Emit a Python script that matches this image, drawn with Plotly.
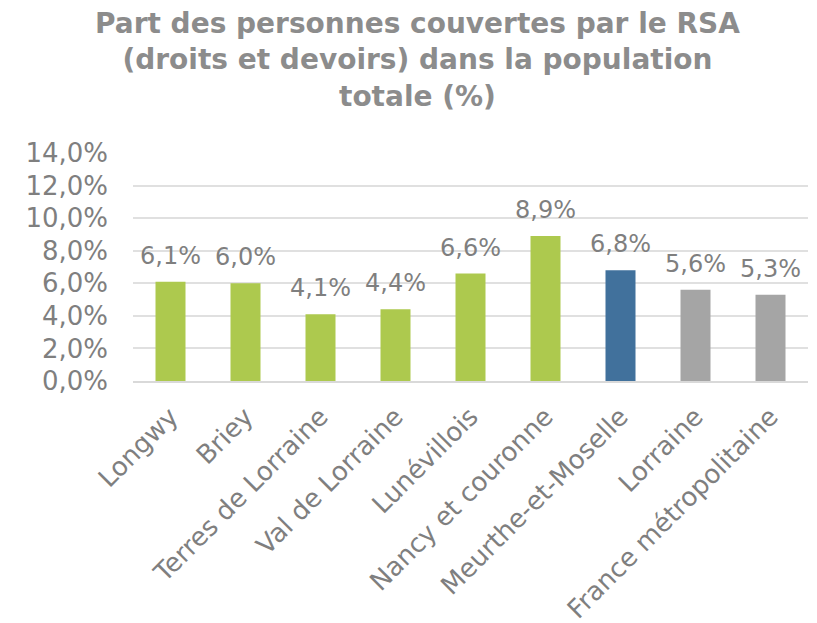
import plotly.graph_objects as go

categories = ["Longwy", "Briey", "Terres de Lorraine", "Val de Lorraine", "Lunévillois",
              "Nancy et couronne", "Meurthe-et-Moselle", "Lorraine", "France métropolitaine"]
values = [6.1, 6.0, 4.1, 4.4, 6.6, 8.9, 6.8, 5.6, 5.3]
value_labels = ["6,1%", "6,0%", "4,1%", "4,4%", "6,6%", "8,9%", "6,8%", "5,6%", "5,3%"]
colors = ["#ADC94E"] * 6 + ["#41719C"] + ["#A5A5A5"] * 2
tick_vals = [0, 2, 4, 6, 8, 10, 12, 14]
tick_text = ["0,0%", "2,0%", "4,0%", "6,0%", "8,0%", "10,0%", "12,0%", "14,0%"]

font_name = "DejaVu Sans"
grey_text = "#7F7F7F"

fig = go.Figure()
fig.add_trace(go.Bar(x=categories,
                     y=values,
                     marker={"color": colors, "line": {"width": 0}}))

# data labels, placed a little above each bar
for cat, val, lab in zip(categories, values, value_labels):
    fig.add_annotation(x=cat, y=val, text=lab, showarrow=False,
                       yanchor="bottom", yshift=10,
                       font={"family": font_name, "size": 24, "color": grey_text})

fig.add_annotation(text="<b>Part des personnes couvertes par le RSA<br>(droits et devoirs) dans la population<br>totale (%)</b>",
                   xref="paper", yref="paper", x=0.422, y=1.65,
                   xanchor="center", yanchor="top", showarrow=False,
                   font={"family": font_name, "size": 28, "color": "#8C8C8C"})

# page body has an 8px margin, so the margins are shifted by that amount
fig.update_layout(width=817, height=623,
                  paper_bgcolor="white",
                  plot_bgcolor="white",
                  showlegend=False,
                  bargap=0.6,
                  margin={"l": 125, "r": 17, "t": 145, "b": 250},
                  xaxis={"tickangle": -45, "automargin": False,
                         "tickfont": {"family": font_name, "size": 26, "color": grey_text},
                         "showline": True, "linecolor": "#D9D9D9", "linewidth": 2,
                         "ticks": "", "ticklabelstandoff": 8},
                  yaxis={"range": [0, 14], "tickvals": tick_vals, "ticktext": tick_text,
                         "automargin": False,
                         "tickfont": {"family": font_name, "size": 26, "color": grey_text},
                         "showgrid": True, "gridcolor": "#E0E0E0", "gridwidth": 2,
                         "zeroline": False, "ticks": "", "ticklabelstandoff": 24})

fig.write_html("out.html")
